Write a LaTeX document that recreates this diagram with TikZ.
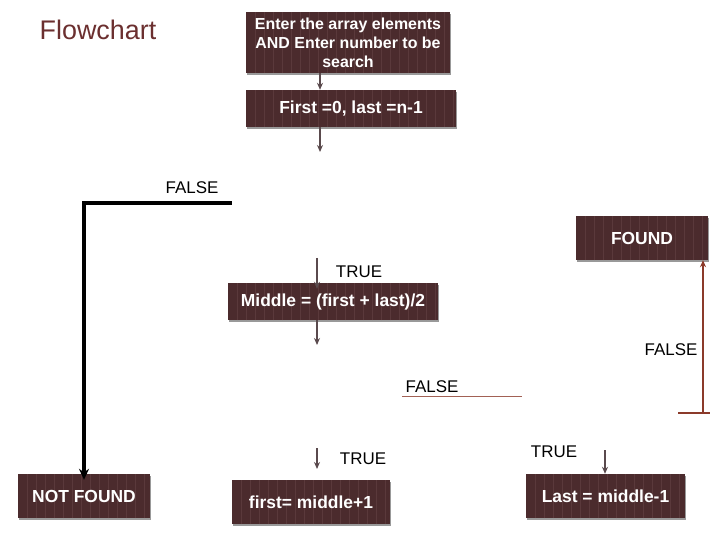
\documentclass[tikz,border=0pt]{standalone}
\usepackage{fontspec}
\setmainfont{Liberation Sans}
\usetikzlibrary{arrows.meta, shadows}
\definecolor{boxfill}{HTML}{4B2B2D}
\definecolor{boxstripe}{HTML}{5A393B}
\definecolor{titlered}{HTML}{6B2F2F}
\definecolor{arrowgray}{HTML}{5A4A4D}
\definecolor{rustline}{HTML}{8B3A2A}

\begin{document}
\begin{tikzpicture}[x=1bp, y=-1bp,
        box/.style={fill=boxfill, text=white, font=\fontsize{17.5}{19}\selectfont\bfseries, align=center, inner sep=2bp,
            drop shadow={shadow xshift=1bp, shadow yshift=-2bp, fill=black!40, opacity=1},
            path picture={\foreach \k in {1,...,24}{\draw[boxstripe, line width=0.8bp] ([xshift=\k*9bp]path picture bounding box.south west) -- ([xshift=\k*9bp]path picture bounding box.north west);}}},
        lbl/.style={font=\fontsize{17}{19}\selectfont, text=black, inner sep=0pt},
        arrow/.style={-{Stealth[length=7bp, width=6bp]}, line width=1.2bp, arrowgray},
        falseline/.style={line width=3.5bp, black, line cap=rect}
    ]
        \useasboundingbox (0,0) rectangle (720,540);

        \node (title) at (98,30) [font=\fontsize{27}{30}\selectfont, text=titlered] {Flowchart};

        % boxes
        \node (enter) at (348,42.5) [box, minimum width=204bp, minimum height=61bp, font=\fontsize{16}{19}\selectfont\bfseries] {Enter the array elements\\AND Enter number to be\\search};
        \node (init) at (351,108.5) [box, minimum width=210bp, minimum height=37bp] {First =0, last =n-1};
        \node (middle) at (333,301.5) [box, minimum width=210bp, minimum height=37bp] {Middle = (first + last)/2};
        \node (found) at (642,238) [box, minimum width=132bp, minimum height=44bp] {FOUND};
        \node (notfound) at (84,496) [box, minimum width=132bp, minimum height=44bp] {NOT FOUND};
        \node (firstmid) at (311,502) [box, minimum width=158bp, minimum height=44bp] {first= middle+1};
        \node (lastmid) at (605.5,496) [box, minimum width=159bp, minimum height=44bp] {Last = middle-1};

        % labels
        \node (lblfalsea) at (192,188) [lbl] {FALSE};
        \node (lbltruea) at (359,272) [lbl] {TRUE};
        \node (lblfalseb) at (671,350) [lbl] {FALSE};
        \node (lblfalsec) at (432,387) [lbl] {FALSE};
        \node (lbltrueb) at (363,459) [lbl] {TRUE};
        \node (lbltruec) at (554,452) [lbl] {TRUE};

        % loose ends
        \coordinate (downa) at (320,152);
        \coordinate (topa) at (317,258);
        \coordinate (downb) at (317,345);
        \coordinate (topb) at (317,448);
        \coordinate (endb) at (317,469);
        \coordinate (topc) at (605,450);
        \coordinate (falsestart) at (230,203);
        \coordinate (foundfoot) at (703,413);
        \coordinate (footleft) at (678,413);
        \coordinate (footright) at (710,413);
        \coordinate (underleft) at (402,396);
        \coordinate (underright) at (522,396);

        % connectors
        \draw [arrow] ([xshift=-28bp]enter.south) -- ([xshift=-28bp]enter.south |- init.north);
        \draw [arrow] (init.south -| downa) -- (downa);
        \draw [arrow] (topa) -- ([yshift=-6bp]topa |- middle.north);
        \draw [arrow] (middle.south -| downb) -- (downb);
        \draw [arrow] (topb) -- (endb);
        \draw [arrow] (topc) -- (topc |- lastmid.north);

        \begin{scope}[xshift=-2bp, yshift=2bp]
            \draw [falseline, gray!55] (falsestart) -| ([yshift=20bp]notfound.north);
        \end{scope}
        \draw [falseline, -{Stealth[length=11bp, width=10bp]}] (falsestart) -| ([yshift=-6bp]notfound.north);

        \draw [rustline, line width=1.3bp, -{Stealth[length=7bp, width=6bp]}] (foundfoot) -- (foundfoot |- found.south);
        \draw [rustline, line width=1.3bp] (footleft) -- (footright);
        \draw [rustline!80, line width=1bp] (underleft) -- (underright);
    \end{tikzpicture}
\end{document}
